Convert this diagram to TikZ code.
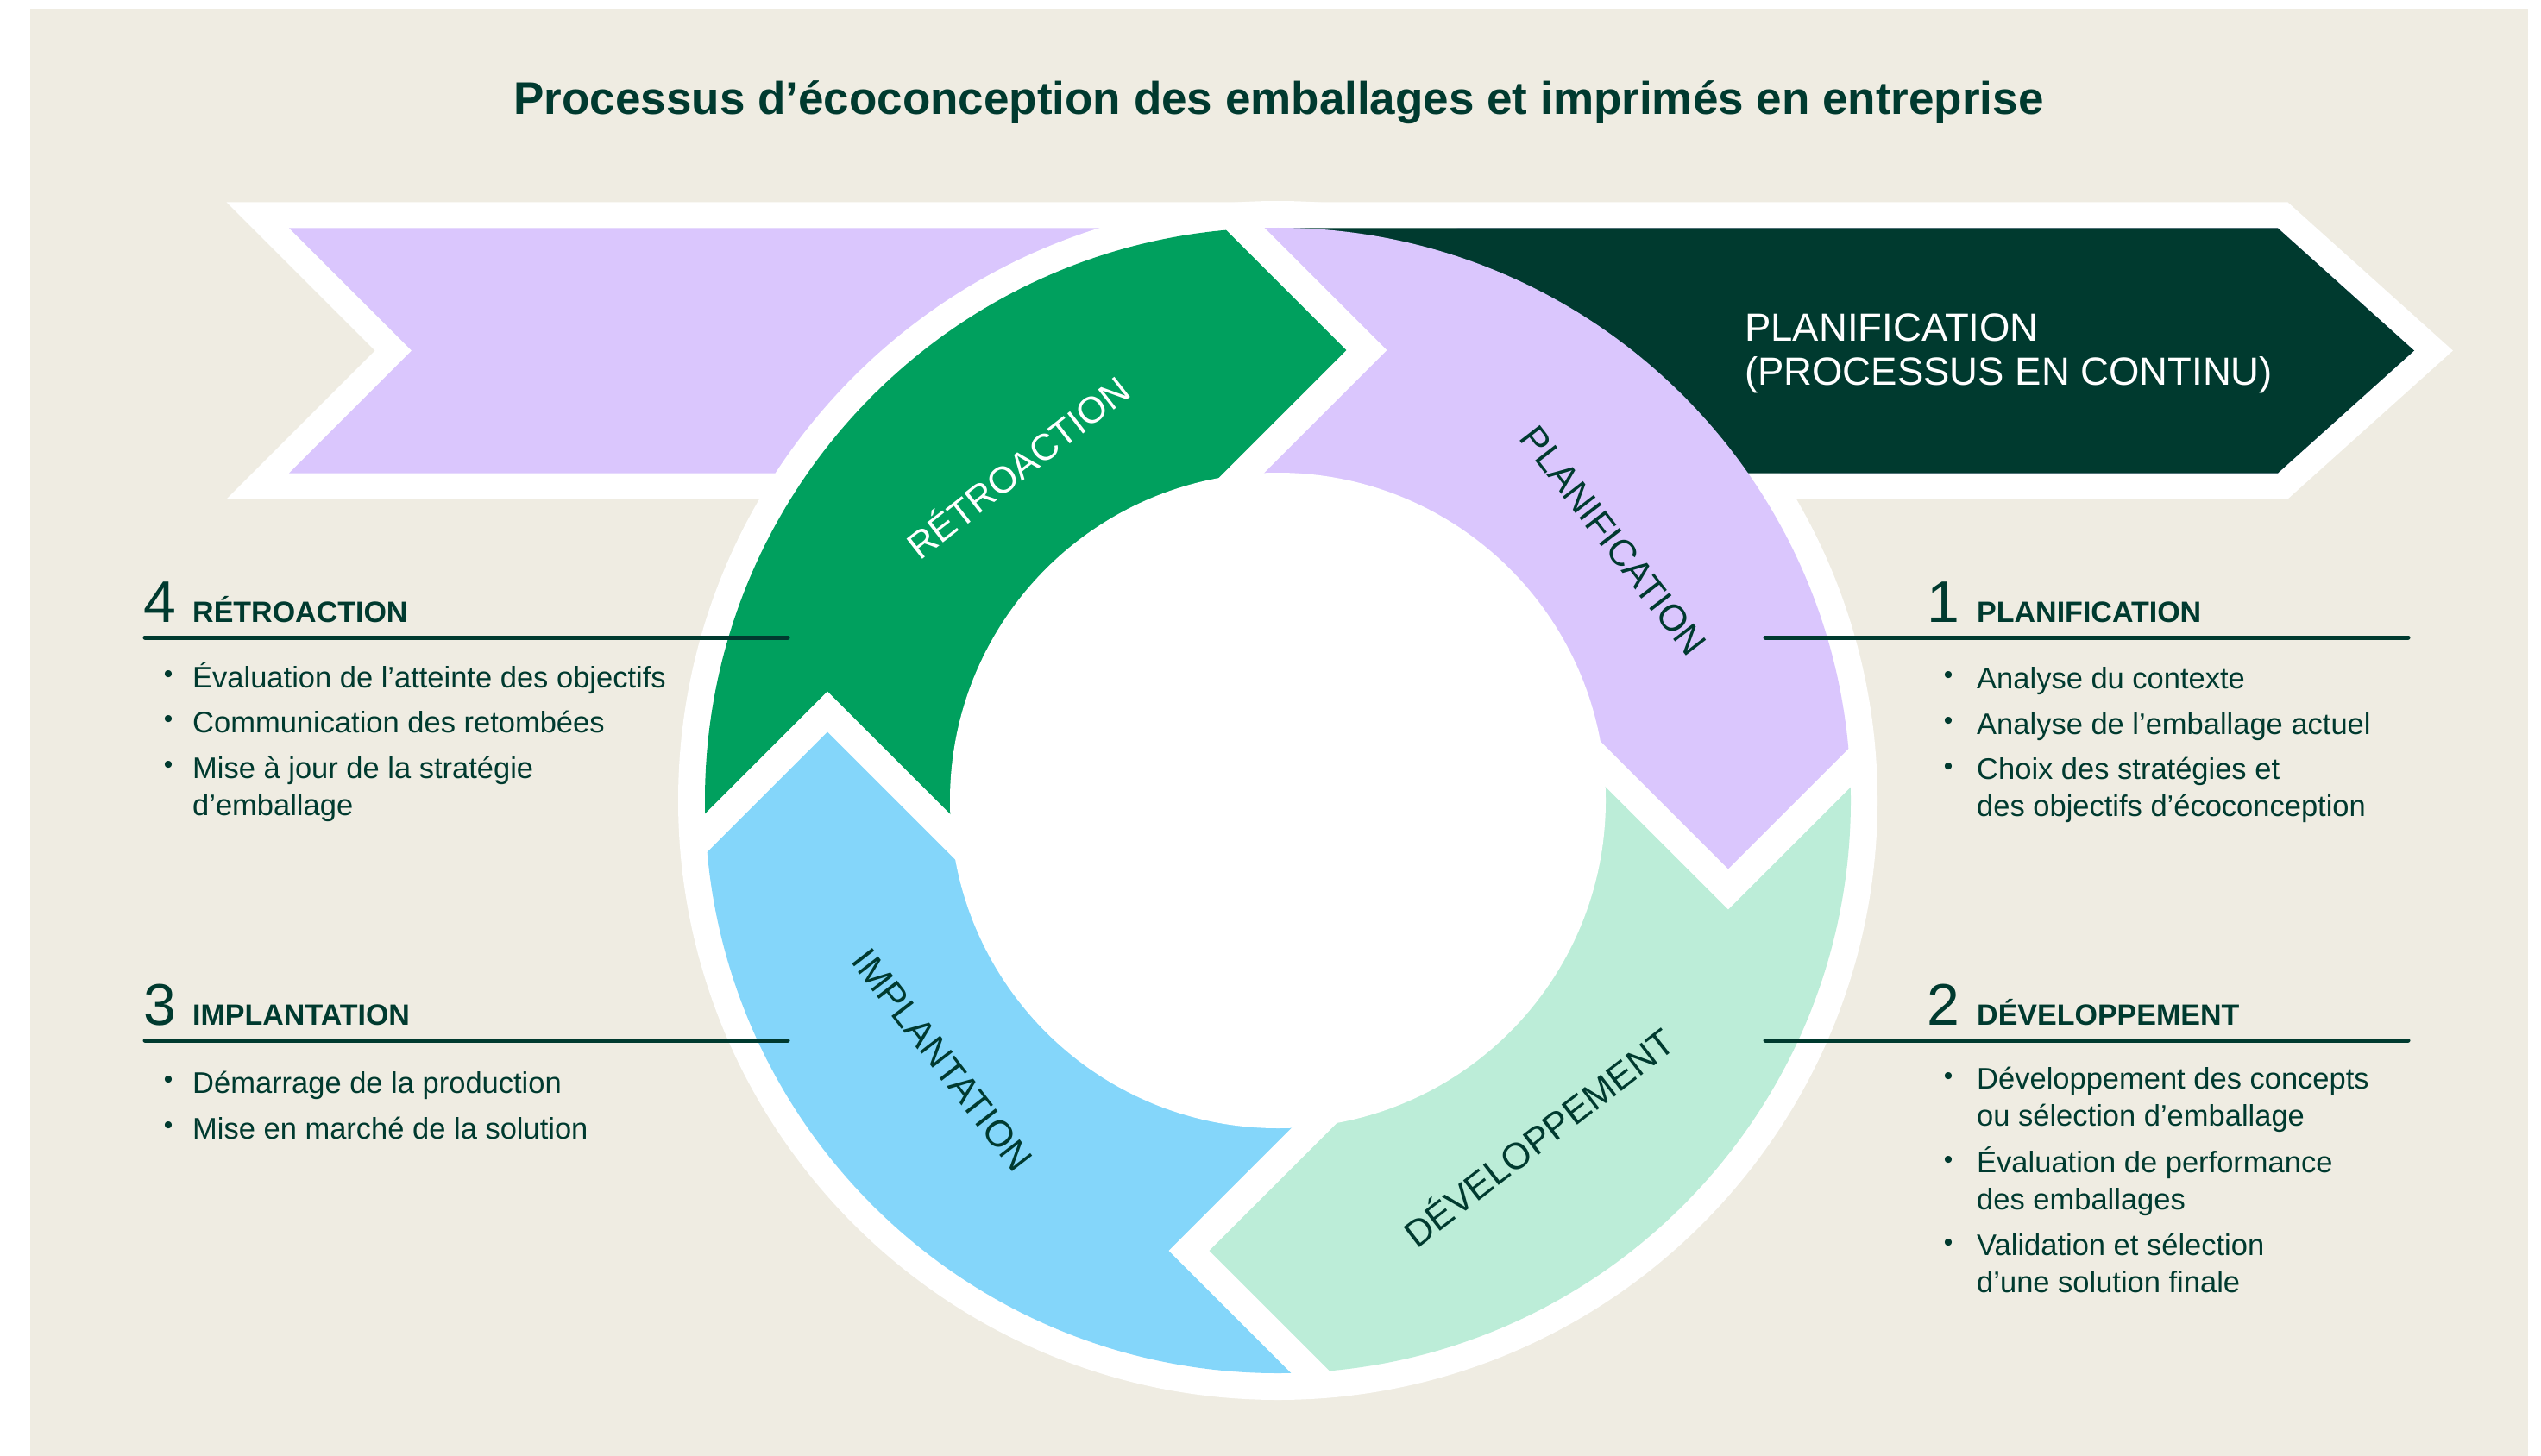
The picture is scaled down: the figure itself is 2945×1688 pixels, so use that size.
\documentclass[tikz,border=0pt]{standalone}
\usepackage{fontspec}
\setmainfont{Liberation Sans}
\usetikzlibrary{positioning}
\definecolor{beige}{HTML}{EFECE2}
\definecolor{lav}{HTML}{DAC6FD}
\definecolor{grn}{HTML}{00A05E}
\definecolor{mint}{HTML}{BCEDD8}
\definecolor{sky}{HTML}{84D6FA}
\definecolor{dkgreen}{HTML}{003A2F}

\tikzset{
  maintitle/.style={font=\fontsize{53}{64}\selectfont\bfseries, text=dkgreen, anchor=base, inner sep=0pt},
  bantxt/.style={font=\fontsize{45.5}{52}\selectfont, text=white, anchor=base west, inner sep=0pt},
  ringlabel/.style={font=\fontsize{43}{50}\selectfont, text=dkgreen, inner sep=0pt},
  stepnum/.style={font=\fontsize{68}{80}\selectfont, text=dkgreen, anchor=base west, inner sep=0pt},
  stephead/.style={font=\fontsize{34}{40}\selectfont\bfseries, text=dkgreen, anchor=base west, inner sep=0pt},
  stepitem/.style={font=\fontsize{34.5}{42.5}\selectfont, text=dkgreen, anchor=base west, inner sep=0pt, align=left},
  bullet/.style={font=\fontsize{30}{36}\selectfont, text=dkgreen, anchor=base, inner sep=0pt},
  steprule/.style={draw=dkgreen, line width=5pt, line cap=round},
  sepline/.style={draw=white, line width=33pt},
}

\begin{document}
\begin{tikzpicture}[x=1pt,y=-1pt]
  \useasboundingbox (0,0) rectangle (2945,1688);
  \fill[white] (0,0) rectangle (2945,1688);
  \fill[beige] (35,11) rectangle (2930,1688);

  \node[maintitle] (ttl) at (1482,133) {Processus d’écoconception des emballages et imprimés en entreprise};

  % banner behind the ring
  \path[fill=lav, preaction={draw=white, line width=60pt}]
    (335,264.5) -- (2640,264.5) -- (2798,406.5) -- (2640,548.5) -- (335,548.5) -- (477,406.5) -- cycle;

  \coordinate (C) at (1481,928);
  \fill[white] (C) circle[radius=695pt];
  \fill[dkgreen] (1481,264.5) -- (2640,264.5) -- (2798,406.5) -- (2640,548.5) -- (1481,548.5) -- cycle;

  % chevrons between the steps
  \coordinate (tO) at (1346,168);  \coordinate (to) at (1431,253);
  \coordinate (tT) at (1584,406);  \coordinate (ti) at (1406,584);
  \coordinate (rO) at (2241,793);  \coordinate (ro) at (2156,878);
  \coordinate (rT) at (2003,1031); \coordinate (ri) at (1825,853);
  \coordinate (bO) at (1616,1688); \coordinate (bo) at (1531,1603);
  \coordinate (bT) at (1378,1450); \coordinate (bi) at (1556,1272);
  \coordinate (lO) at (721,1063);  \coordinate (lo) at (806,978);
  \coordinate (lT) at (959,825);   \coordinate (li) at (1137,1003);

  \begin{scope}
    \clip (C) circle[radius=664pt];
    \fill[lav]  (tO) -- (tT) -- (ti) -- (C) -- (ri) -- (rT) -- (rO) -- (2400,793) -- (2400,0) -- (1346,0) -- cycle;
    \fill[mint] (rO) -- (rT) -- (ri) -- (C) -- (bi) -- (bT) -- (bO) -- (1616,1800) -- (2400,1800) -- (2400,793) -- cycle;
    \fill[sky]  (bO) -- (bT) -- (bi) -- (C) -- (li) -- (lT) -- (lO) -- (600,1063) -- (600,1800) -- (1616,1800) -- cycle;
    \fill[grn]  (lO) -- (lT) -- (li) -- (C) -- (ti) -- (tT) -- (tO) -- (1346,0) -- (600,0) -- (600,1063) -- cycle;
  \end{scope}
  \fill[white] (C) circle[radius=380pt];
  \draw[sepline] (to) -- (tT) -- (ti);
  \draw[sepline] (ro) -- (rT) -- (ri);
  \draw[sepline] (bo) -- (bT) -- (bi);
  \draw[sepline] (lo) -- (lT) -- (li);

  \node[ringlabel, rotate=-52.3] (rplan) at (1870,627) {PLANIFICATION};
  \node[ringlabel, rotate=37.7] (rdev) at (1782,1317) {DÉVELOPPEMENT};
  \node[ringlabel, rotate=-52.3] (rimpl) at (1092,1229) {IMPLANTATION};
  \node[ringlabel, rotate=38, text=white] (rretro) at (1178,540) {RÉTROACTION};

  \node[bantxt] (ban1) at (2022,395) {PLANIFICATION};
  \node[bantxt] (ban2) at (2022,446) {(PROCESSUS EN CONTINU)};

  % 4 retroaction
  \node[stepnum] (n4) at (166,721) {4};
  \node[stephead] (h4) at (223,721) {RÉTROACTION};
  \coordinate (r4a) at (168,739); \coordinate (r4b) at (913,739);
  \draw[steprule] (r4a) -- (r4b);
  \node[bullet] (d41) at (195,791) {•};
  \node[stepitem] (i41) at (223,797) {Évaluation de l’atteinte des objectifs};
  \node[bullet] (d42) at (195,843) {•};
  \node[stepitem] (i42) at (223,849) {Communication des retombées};
  \node[bullet] (d43) at (195,896) {•};
  \node[stepitem] (i43) at (223,945) {Mise à jour de la stratégie\\d’emballage};

  % 3 implantation
  \node[stepnum] (n3) at (166,1188) {3};
  \node[stephead] (h3) at (223,1188) {IMPLANTATION};
  \coordinate (r3a) at (168,1206); \coordinate (r3b) at (913,1206);
  \draw[steprule] (r3a) -- (r3b);
  \node[bullet] (d31) at (195,1261) {•};
  \node[stepitem] (i31) at (223,1267) {Démarrage de la production};
  \node[bullet] (d32) at (195,1314) {•};
  \node[stepitem] (i32) at (223,1320) {Mise en marché de la solution};

  % 1 planification
  \node[stepnum] (n1) at (2233,721) {1};
  \node[stephead] (h1) at (2291,721) {PLANIFICATION};
  \coordinate (r1a) at (2046,739); \coordinate (r1b) at (2791,739);
  \draw[steprule] (r1a) -- (r1b);
  \node[bullet] (d11) at (2258,792) {•};
  \node[stepitem] (i11) at (2291,798) {Analyse du contexte};
  \node[bullet] (d12) at (2258,845) {•};
  \node[stepitem] (i12) at (2291,851) {Analyse de l’emballage actuel};
  \node[bullet] (d13) at (2258,898) {•};
  \node[stepitem] (i13) at (2291,946) {Choix des stratégies et\\des objectifs d’écoconception};

  % 2 developpement
  \node[stepnum] (n2) at (2233,1188) {2};
  \node[stephead] (h2) at (2291,1188) {DÉVELOPPEMENT};
  \coordinate (r2a) at (2046,1206); \coordinate (r2b) at (2791,1206);
  \draw[steprule] (r2a) -- (r2b);
  \node[bullet] (d21) at (2258,1257) {•};
  \node[stepitem] (i21) at (2291,1305) {Développement des concepts\\ou sélection d’emballage};
  \node[bullet] (d22) at (2258,1354) {•};
  \node[stepitem] (i22) at (2291,1402) {Évaluation de performance\\des emballages};
  \node[bullet] (d23) at (2258,1450) {•};
  \node[stepitem] (i23) at (2291,1498) {Validation et sélection\\d’une solution finale};
\end{tikzpicture}
\end{document}
